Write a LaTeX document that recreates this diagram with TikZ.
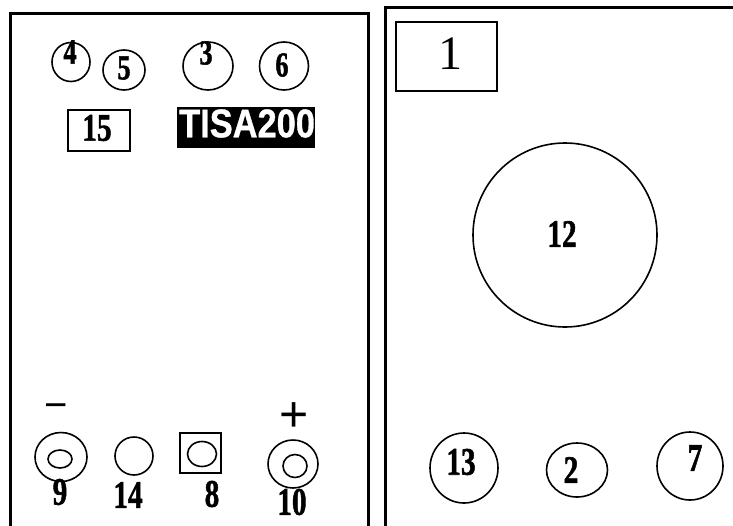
\documentclass[tikz,border=0pt]{standalone}
\usepackage{fontspec}
\usepackage{graphicx}
\setmainfont{Liberation Serif}
\newfontfamily\sansf{Liberation Sans}
\font\heavyd="Liberation Serif/B:embolden=1.5" at 39pt
\font\heavys="Liberation Serif/B:embolden=1.5" at 35pt
\font\heavyt="Liberation Sans/B:embolden=1" at 40pt
\usetikzlibrary{shapes.geometric}
\tikzset{
  panel/.style={line width=3pt},
  ring/.style={draw, ellipse, line width=1.6pt, inner sep=0pt},
  frame/.style={draw, rectangle, line width=2.6pt, inner sep=0pt},
  digit/.style={inner sep=0pt, font=\heavyd},
  sdigit/.style={inner sep=0pt, font=\heavys},
  sign/.style={inner sep=0pt, font=\sansf\fontsize{40}{40}\selectfont},
}
\newcommand{\cnd}[1]{\scalebox{0.75}[1]{#1}}
\begin{document}
\begin{tikzpicture}[x=1pt,y=-1pt]
\useasboundingbox (0,0) rectangle (733,525);
% panels
\draw[panel] (10,530) -- (10,13) -- (368,13) -- (368,530);
\draw[panel] (385.5,530) -- (385.5,7) -- (740,7);
% left panel top row
\node[ring, minimum width=38pt, minimum height=39pt] (c4) at (71,62) {};
\node[ring, minimum width=42pt, minimum height=40pt] (c5) at (124,70) {};
\node[ring, minimum width=50pt, minimum height=48pt] (c3) at (208,66) {};
\node[ring, minimum width=49pt, minimum height=48pt] (c6) at (284,66) {};
\node[sdigit] (l4) at (70,52) {\cnd{4}};
\node[sdigit] (l5) at (124,68) {\cnd{5}};
\node[sdigit] (l3) at (206,53) {\cnd{3}};
\node[sdigit] (l6) at (282,65) {\cnd{6}};
% box 15
\node[frame, minimum width=62pt, minimum height=41pt] (b15) at (99,130.5) {};
\node[digit] (l15) at (97,128) {\cnd{15}};
% TISA200
\node[fill=black, inner sep=0pt, minimum width=138pt, minimum height=41pt] (tisa) at (246,127.5) {};
\node[inner sep=0pt, text=white, anchor=west, font=\heavyt] (ltisa) at (179,123.5) {\scalebox{0.86}[1]{TISA200}};
% bottom row left panel
\node[sign] (minus) at (56,411) {−};
\node[sign, font=\sansf\fontsize{50}{50}\selectfont] (plus) at (294,417) {+};
\node[ring, minimum width=52pt, minimum height=49pt] (c9) at (61,457) {};
\node[ring, minimum width=24pt, minimum height=18pt] (c9i) at (60,459) {};
\node[ring, minimum width=38pt, minimum height=38pt] (c14) at (134,456) {};
\node[frame, minimum width=41pt, minimum height=40pt] (b8) at (200.5,453) {};
\node[ring, minimum width=29pt, minimum height=25pt] (c8i) at (202,454) {};
\node[ring, minimum width=50pt, minimum height=48pt] (c10) at (293,464) {};
\node[ring, minimum width=24pt, minimum height=23pt] (c10i) at (295,466) {};
\node[digit] (l9) at (60,492) {\cnd{9}};
\node[digit] (l14) at (128,495) {\cnd{14}};
\node[digit] (l8) at (212,494) {\cnd{8}};
\node[digit] (l10) at (292,502) {\cnd{10}};
% right panel
\node[frame, minimum width=101pt, minimum height=69pt] (b1) at (446.5,56.5) {};
\node[inner sep=0pt, font=\fontsize{48}{48}\selectfont] (l1) at (450,54) {1};
\node[ring, minimum width=184pt, minimum height=184pt] (c12) at (565,235) {};
\node[digit] (l12) at (562,234) {\cnd{12}};
\node[ring, minimum width=68pt, minimum height=70pt] (c13) at (464,468) {};
\node[ring, minimum width=61pt, minimum height=54pt] (c2) at (577,470) {};
\node[ring, minimum width=66pt, minimum height=68pt] (c7) at (690,466) {};
\node[digit] (l13) at (461,462) {\cnd{13}};
\node[digit] (l2) at (571,470) {\cnd{2}};
\node[digit] (l7) at (695,458) {\cnd{7}};
\end{tikzpicture}
\end{document}
